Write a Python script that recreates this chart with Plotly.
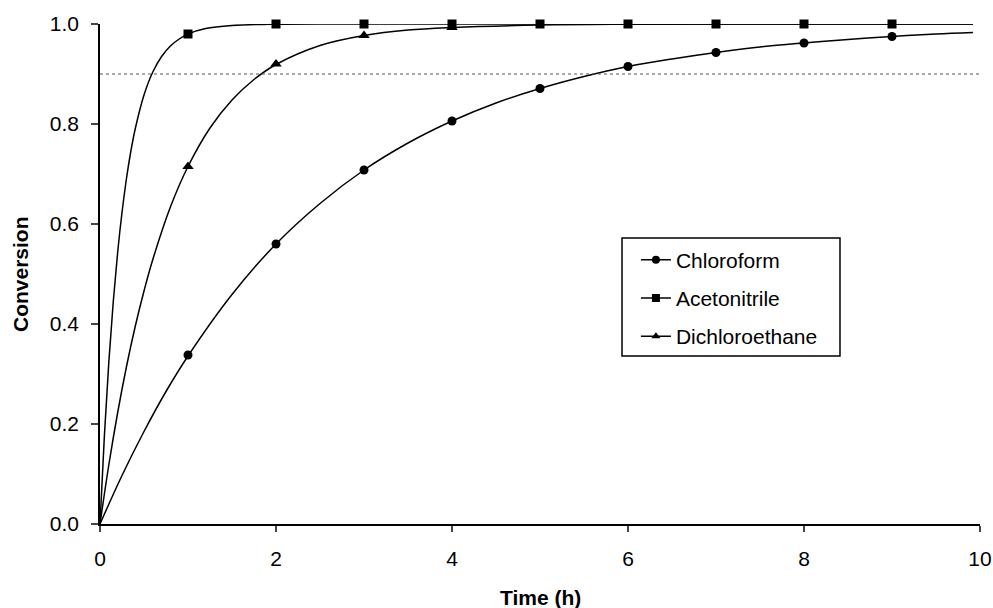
import plotly.graph_objects as go

# Measured points (markers)
t_pts = [1, 2, 3, 4, 5, 6, 7, 8, 9]
chloroform_pts = [0.338, 0.560, 0.708, 0.806, 0.871, 0.915, 0.943, 0.962, 0.975]
acetonitrile_pts = [0.980, 1.000, 1.000, 1.000, 1.000, 1.000, 1.000, 1.000, 1.000]
dce_t_pts = [1, 2, 3, 4]
dce_pts = [0.715, 0.920, 0.977, 0.993]

# Fitted curves
chloroform_t = [0, 0.25, 0.5, 0.75, 1, 1.5, 2, 2.5, 3, 3.5, 4, 4.5, 5, 5.5, 6, 6.5, 7, 7.5, 8, 8.5, 9, 9.5, 9.92]
chloroform_y = [0, 0.097, 0.185, 0.265, 0.336, 0.459, 0.560, 0.641, 0.708, 0.762, 0.806, 0.842, 0.871, 0.895, 0.915, 0.930, 0.943, 0.954, 0.962, 0.969, 0.975, 0.980, 0.983]
aceto_t = [0, 0.05, 0.1, 0.15, 0.2, 0.25, 0.3, 0.35, 0.4, 0.5, 0.6, 0.7, 0.8, 0.9, 1.0, 1.2, 1.5, 2, 3, 9.92]
aceto_y = [0, 0.177, 0.323, 0.443, 0.542, 0.623, 0.690, 0.745, 0.790, 0.858, 0.904, 0.935, 0.956, 0.970, 0.980, 0.991, 0.997, 0.9996, 1.0, 1.0]
dce_t = [0, 0.1, 0.2, 0.3, 0.4, 0.5, 0.6, 0.8, 1.0, 1.25, 1.5, 1.75, 2, 2.5, 3, 3.5, 4, 5, 6, 8, 9.92]
dce_y = [0, 0.118, 0.222, 0.314, 0.395, 0.466, 0.529, 0.634, 0.715, 0.792, 0.848, 0.889, 0.919, 0.957, 0.977, 0.988, 0.993, 0.998, 0.9995, 1.0, 1.0]

ref_level = 0.9
names = ["Chloroform", "Acetonitrile", "Dichloroethane"]
symbols = ["circle", "square", "triangle-up"]
x_ticks = [0, 2, 4, 6, 8, 10]
y_ticks = [0, 0.2, 0.4, 0.6, 0.8, 1.0]

FONT = "Liberation Sans, Arial, sans-serif"
fig = go.Figure()

for tx, ty in [(chloroform_t, chloroform_y), (aceto_t, aceto_y), (dce_t, dce_y)]:
    fig.add_trace(go.Scatter(x=tx, y=ty, mode="lines", line=dict(color="black", width=1.5, shape="spline"),
                             showlegend=False, hoverinfo="skip", cliponaxis=False))

for px_, py_, sym, sz in [(t_pts, chloroform_pts, "circle", 9), (t_pts, acetonitrile_pts, "square", 9),
                          (dce_t_pts, dce_pts, "triangle-up", 10)]:
    fig.add_trace(go.Scatter(x=px_, y=py_, mode="markers", marker=dict(symbol=sym, size=sz, color="black"),
                             showlegend=False, cliponaxis=False))

for nm, sym in zip(names, symbols):
    fig.add_trace(go.Scatter(x=[None], y=[None], mode="lines+markers", name=nm, legendgroup=nm,
                             line=dict(color="black", width=1.5),
                             marker=dict(symbol=sym, size=8, color="black")))

fig.add_shape(type="line", x0=0, x1=10, y0=ref_level, y1=ref_level, xref="x", yref="y",
              line=dict(color="#555555", width=1, dash="dot"))
# legend frame
fig.add_shape(type="rect", xref="paper", yref="paper", x0=0.5932, x1=0.8409, y0=0.336, y1=0.572,
              line=dict(color="black", width=1.5), fillcolor="rgba(0,0,0,0)", layer="above")

fig.add_annotation(text="<b>Time (h)</b>", xref="paper", yref="paper", x=0.5, y=0, yshift=-73,
                   showarrow=False, font=dict(family=FONT, size=21, color="black"),
                   xanchor="center", yanchor="middle")
fig.add_annotation(text="<b>Conversion</b>", xref="paper", yref="paper", x=0, y=0.5, xshift=-80,
                   textangle=-90, showarrow=False, font=dict(family=FONT, size=21, color="black"),
                   xanchor="center", yanchor="middle")

fig.update_layout(
    width=993, height=608,
    margin=dict(l=100, r=13, t=24, b=84, autoexpand=False),
    paper_bgcolor="white", plot_bgcolor="white",
    font=dict(family=FONT, size=21, color="black"),
    showlegend=True,
    legend=dict(x=0.609, y=0.569, xanchor="left", yanchor="top",
                borderwidth=0, bgcolor="rgba(0,0,0,0)",
                font=dict(family=FONT, size=21, color="black"),
                traceorder="grouped", tracegroupgap=8, itemwidth=30),
    xaxis=dict(range=[0, 10], tickvals=x_ticks, ticks="outside", ticklen=6, tickwidth=1.5,
               showline=True, linecolor="black", linewidth=1.5, showgrid=False, zeroline=False,
               tickfont=dict(size=21), ticklabelstandoff=9, automargin=False),
    yaxis=dict(range=[0, 1], tickvals=y_ticks, tickformat=".1f", ticks="outside",
               ticklen=7, tickwidth=1.5, showline=True, linecolor="black", linewidth=1.5, showgrid=False,
               zeroline=False, tickfont=dict(size=21), ticklabelstandoff=8, automargin=False),
)

fig.write_html("out.html", config={"displayModeBar": False},
               post_script="document.body.style.margin='0';")
